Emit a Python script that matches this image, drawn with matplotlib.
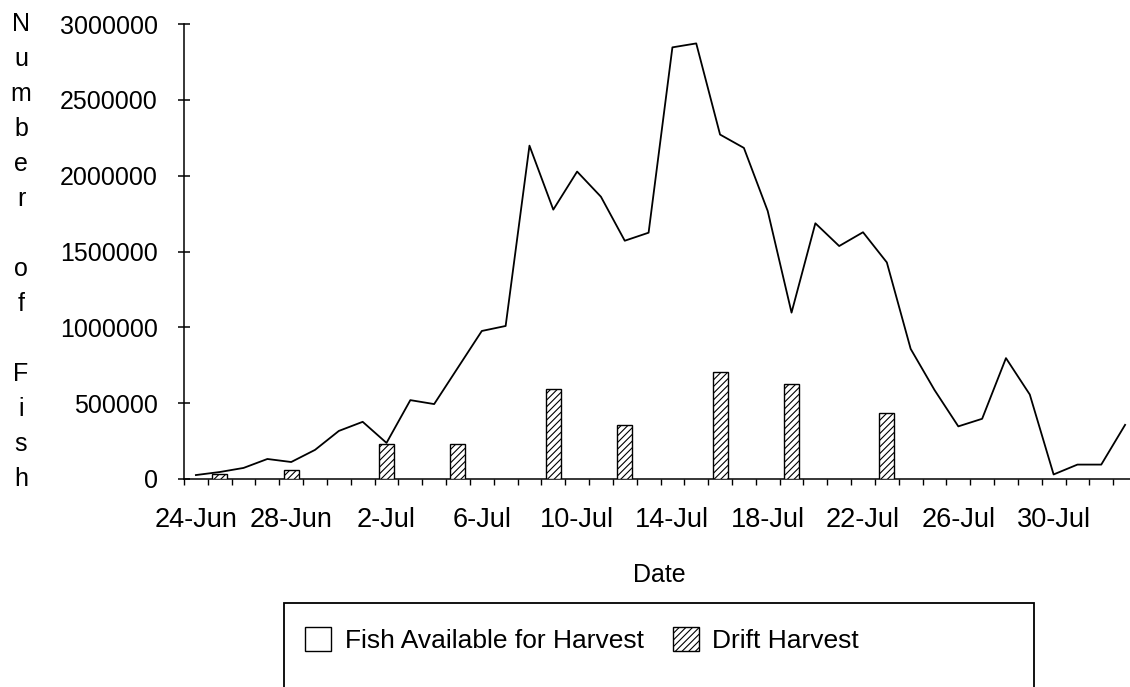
import numpy as np
import pandas as pd
import matplotlib
matplotlib.use("Agg")
import matplotlib.pyplot as plt
from matplotlib.patches import Patch, Rectangle
from matplotlib.transforms import blended_transform_factory

plt.rcParams['font.family'] = ['Liberation Sans', 'DejaVu Sans']
plt.rcParams['hatch.linewidth'] = 0.8

# daily categories, 24-Jun .. 2-Aug
dates = pd.date_range('1995-06-24', periods=40)
date_labels = [f"{d.day}-{d.strftime('%b')}" for d in dates]

fish_available = [26000, 46000, 73000, 132000, 112000, 192000, 317000, 377000,
                  238000, 520000, 494000, 735000, 976000, 1009000, 2198000, 1776000,
                  2027000, 1861000, 1571000, 1624000, 2846000, 2872000, 2271000, 2183000,
                  1767000, 1097000, 1686000, 1536000, 1627000, 1428000, 858000, 587000,
                  347000, 397000, 797000, 557000, 30000, 95000, 95000, 357000]

harvest_days = ['25-Jun', '28-Jun', '2-Jul', '5-Jul', '9-Jul', '12-Jul', '16-Jul', '19-Jul', '23-Jul']
drift_harvest = [33000, 59000, 231000, 231000, 595000, 357000, 707000, 628000, 436000]

ylabel_text = "Number of Fish"

fig = plt.figure(figsize=(11.3, 6.87), dpi=100)
ax = fig.add_axes([184/1130, 208/687, 953/1130, 455/687])

x = np.arange(len(date_labels))
hx = [date_labels.index(d) for d in harvest_days]

ax.plot(x, fish_available, color='black', lw=1.3)
ax.bar(hx, drift_harvest, width=0.63, color='white', edgecolor='black',
       hatch='/////', lw=1.0, zorder=3)

ax.set_xlim(-0.5, len(x) - 0.5)
ax.set_ylim(0, 3000000)
ax.set_yticks(np.arange(0, 3000001, 500000))
ax.set_yticklabels([str(v) for v in range(0, 3000001, 500000)])
ax.set_xticks(x[::4])
ax.set_xticklabels(date_labels[::4])
ax.set_xticks(np.arange(-0.5, len(x)), minor=True)

ax.tick_params(axis='y', direction='inout', length=8, width=1.1, pad=15, labelsize=18)
ax.tick_params(axis='x', which='major', length=0, pad=20, labelsize=19.5)
ax.tick_params(axis='x', which='minor', direction='out', length=4.3, width=1.0)

for s in ['top', 'right']:
    ax.spines[s].set_visible(False)
for s in ['left', 'bottom']:
    ax.spines[s].set_linewidth(1.1)

# stacked vertical y label
tr = blended_transform_factory(fig.transFigure, ax.transAxes)
chars = list(ylabel_text)
n = len(chars) - 1
for k, c in enumerate(chars):
    ax.text(21/1130, 1 - k/n, c, transform=tr, ha='center', va='center',
            fontsize=18, clip_on=False)

fig.text(659/1130, 1 - 575/687, 'Date', ha='center', va='center', fontsize=18)

# legend box (cut off at the bottom of the image)
fig.patches.append(Rectangle((284/1130, -0.06), 750/1130, (1 - 603/687) + 0.06,
                             transform=fig.transFigure, facecolor='white',
                             edgecolor='black', lw=1.3, zorder=0))
handles = [Patch(facecolor='white', edgecolor='black', lw=1.0),
           Patch(facecolor='white', edgecolor='black', hatch='/////', lw=1.0)]
fig.legend(handles, ['Fish Available for Harvest', 'Drift Harvest'],
           loc='center', bbox_to_anchor=(582/1130, 1 - 640/687), ncol=2,
           frameon=False, handlelength=1.0, handleheight=1.0, handletextpad=0.5,
           columnspacing=1.1, fontsize=19)

fig.savefig('out.png', dpi=100)
